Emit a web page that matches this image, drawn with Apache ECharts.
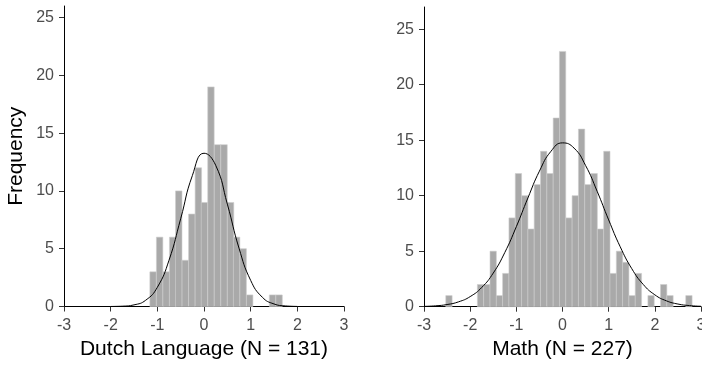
<!DOCTYPE html>
<html><head><meta charset="utf-8">
<script src="https://cdn.jsdelivr.net/npm/echarts@6/dist/echarts.min.js"></script>
<style>html,body{margin:0;padding:0;background:#fff}#c{width:702px;height:365px}</style>
</head><body><div id="c"></div>
<script>
var xTicks = [-3, -2, -1, 0, 1, 2, 3];
var yTicks = [0, 5, 10, 15, 20, 25];

var dutchTitle = 'Dutch Language (N = 131)';
var dutchBinWidth = 0.138;
var dutchBinStarts = [-1.16, -1.02, -0.88, -0.74, -0.61, -0.47, -0.33, -0.19, -0.06, 0.08, 0.22, 0.36, 0.50, 0.63, 0.77, 0.91, 1.40, 1.54];
var dutchCounts    = [3, 6, 3, 6, 10, 4, 8, 12, 9, 19, 14, 14, 9, 6, 5, 1, 1, 1];
var dutchCurveX = [-2, -1.75, -1.5, -1.25, -1, -0.75, -0.5, -0.25, 0, 0.25, 0.5, 0.75, 1, 1.25, 1.5, 1.75, 2];
var dutchCurveY = [0.004, 0.028, 0.14, 0.54, 1.66, 4.0, 7.59, 11.32, 13.26, 12.22, 8.86, 5.05, 2.26, 0.80, 0.22, 0.048, 0.008];

var mathTitle = 'Math (N = 227)';
var mathBinWidth = 0.1368;
var mathBinStarts = [-2.528, -1.844, -1.707, -1.570, -1.434, -1.297, -1.160, -1.023, -0.886, -0.750, -0.613, -0.476, -0.339, -0.202, -0.066, 0.071, 0.208, 0.345, 0.482, 0.618, 0.755, 0.892, 1.029, 1.166, 1.302, 1.439, 1.576, 1.850, 2.123, 2.260, 2.670];
var mathCounts    = [1, 2, 2, 5, 1, 3, 8, 12, 10, 7, 11, 14, 12, 17, 23, 8, 10, 16, 11, 12, 7, 14, 3, 5, 4, 1, 3, 1, 2, 1, 1];
var mathCurveX = [-3, -2.75, -2.5, -2.25, -2, -1.75, -1.5, -1.25, -1, -0.75, -0.5, -0.25, 0, 0.25, 0.5, 0.75, 1, 1.25, 1.5, 1.75, 2, 2.25, 2.5, 2.75, 3];
var mathCurveY = [0.030, 0.079, 0.195, 0.44, 0.91, 1.73, 3.03, 4.88, 7.21, 9.79, 12.21, 14.0, 14.76, 14.29, 12.72, 10.40, 7.82, 5.40, 3.43, 2.00, 1.07, 0.53, 0.24, 0.10, 0.038];

var FONT = 'Liberation Sans';

function binData(starts, counts, w) {
  return starts.map(function (s, i) { return [s, s + w, counts[i]]; });
}
function pairs(xs, ys) { return xs.map(function (x, i) { return [x, ys[i]]; }); }

function renderBar(params, api) {
  var p0 = api.coord([api.value(0), api.value(2)]);
  var p1 = api.coord([api.value(1), 0]);
  return {
    type: 'rect',
    shape: { x: p0[0], y: p0[1], width: p1[0] - p0[0], height: p1[1] - p0[1] },
    style: { fill: '#a9a9a9', stroke: '#cccccc', lineWidth: 0.6 }
  };
}

function xAxis(idx, name) {
  return {
    type: 'value', gridIndex: idx, min: -3, max: 3, interval: 1,
    name: name, nameLocation: 'middle', nameGap: 32,
    nameTextStyle: { fontSize: 21, color: '#000', fontFamily: FONT },
    axisLine: { show: true, onZero: false, lineStyle: { color: '#000', width: 1 } },
    axisTick: { show: true, length: 5, lineStyle: { color: '#333' }, customValues: xTicks },
    axisLabel: { fontSize: 16, color: '#4d4d4d', margin: 11, fontFamily: FONT, customValues: xTicks },
    splitLine: { show: false }
  };
}
function yAxis(idx, max, name) {
  return {
    type: 'value', gridIndex: idx, min: 0, max: max, interval: 5,
    name: name, nameLocation: 'middle', nameGap: 37, nameRotate: 90,
    nameTextStyle: { fontSize: 21, color: '#000', fontFamily: FONT },
    axisLine: { show: true, onZero: false, lineStyle: { color: '#000', width: 1 } },
    axisTick: { show: true, length: 5, lineStyle: { color: '#333' }, customValues: yTicks },
    axisLabel: { fontSize: 16, color: '#4d4d4d', margin: 10, fontFamily: FONT, customValues: yTicks },
    splitLine: { show: false }
  };
}

var chart = echarts.init(document.getElementById('c'), null, { renderer: 'canvas' });
chart.setOption({
  animation: false,
  backgroundColor: '#fff',
  grid: [
    { left: 64, top: 6, width: 280, height: 300.5, containLabel: false, outerBoundsMode: 'none' },
    { left: 424, top: 7, width: 277, height: 299.7, containLabel: false, outerBoundsMode: 'none' }
  ],
  xAxis: [xAxis(0, dutchTitle), xAxis(1, mathTitle)],
  yAxis: [yAxis(0, 26, 'Frequency'), yAxis(1, 27, '')],
  series: [
    { type: 'custom', xAxisIndex: 0, yAxisIndex: 0, renderItem: renderBar,
      encode: { x: [0, 1], y: 2 }, data: binData(dutchBinStarts, dutchCounts, dutchBinWidth), z: 2 },
    { type: 'line', xAxisIndex: 0, yAxisIndex: 0, data: pairs(dutchCurveX, dutchCurveY),
      smooth: true, showSymbol: false, lineStyle: { color: '#000', width: 1 }, z: 3 },
    { type: 'custom', xAxisIndex: 1, yAxisIndex: 1, renderItem: renderBar,
      encode: { x: [0, 1], y: 2 }, data: binData(mathBinStarts, mathCounts, mathBinWidth), z: 2 },
    { type: 'line', xAxisIndex: 1, yAxisIndex: 1, data: pairs(mathCurveX, mathCurveY),
      smooth: true, showSymbol: false, lineStyle: { color: '#000', width: 1 }, z: 3 }
  ]
});
</script>
</body></html>
